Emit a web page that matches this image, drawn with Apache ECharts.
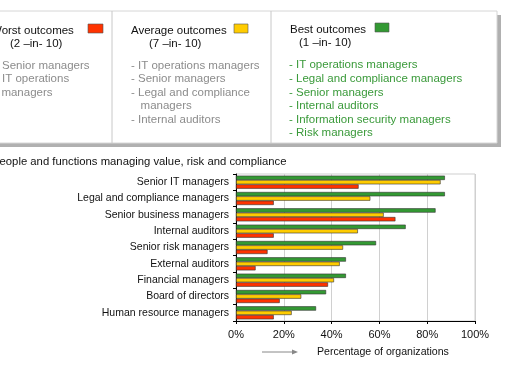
<!DOCTYPE html>
<html>
<head>
<meta charset="utf-8">
<script src="https://cdn.jsdelivr.net/npm/echarts@6/dist/echarts.min.js"></script>
<style>
  html, body { margin: 0; padding: 0; background: #fff; }
  #chart { width: 506px; height: 370px; }
</style>
</head>
<body>
<div id="chart"></div>
<script>
// 分类和数据
const categories = ['Senior IT managers', 'Legal and compliance managers', 'Senior business managers',
  'Internal auditors', 'Senior risk managers', 'External auditors', 'Financial managers',
  'Board of directors', 'Human resource managers']
const best = [87.4, 87.4, 83.5, 71, 58.6, 46, 46, 37.7, 33.5]
const average = [85.6, 56.2, 61.8, 51, 44.8, 43.4, 41, 27.3, 23.3]
const worst = [51.3, 15.8, 66.7, 15.8, 13.2, 8.2, 38.5, 18.3, 15.8]
const xTicks = [0, 20, 40, 60, 80, 100]

// 上方说明框里的文字
const worstList = ['- Senior managers', '- IT operations', '  managers']
const averageList = ['- IT operations managers', '- Senior managers', '- Legal and compliance', '   managers', '- Internal auditors']
const bestList = ['- IT operations managers', '- Legal and compliance managers', '- Senior managers',
  '- Internal auditors', '- Information security managers', '- Risk managers']

const GREEN = '#339933'
const YELLOW = '#ffcc00'
const RED = '#ff3300'
const FONT = '"Liberation Sans", Arial, sans-serif'

function txt (text, x, y, color, size) {
  return {
    type: 'text',
    style: { text: text, x: x, y: y, fill: color, fontSize: size || 11.5, fontFamily: FONT, verticalAlign: 'middle' }
  }
}

function column (list, x, y0, color) {
  return list.map((t, i) => txt(t, x, y0 + i * 13.6, color))
}

let graphic = [
  // 阴影
  { type: 'rect', shape: { x: -6, y: 15, width: 507, height: 132 }, style: { fill: '#b0b0b0' } },
  { type: 'rect', shape: { x: -10, y: 11, width: 507, height: 132 }, style: { fill: '#fff', stroke: '#d6d6d6', lineWidth: 1 } },
  { type: 'line', shape: { x1: 112, y1: 11, x2: 112, y2: 143 }, style: { stroke: '#c8c8c8', lineWidth: 1 } },
  { type: 'line', shape: { x1: 271, y1: 11, x2: 271, y2: 143 }, style: { stroke: '#c8c8c8', lineWidth: 1 } },

  txt('Worst outcomes', -9, 31, '#111'),
  { type: 'rect', shape: { x: 88, y: 24, width: 15, height: 9 }, style: { fill: RED, stroke: '#555', lineWidth: 0.6 } },
  txt('(2 –in- 10)', 10, 44, '#111'),

  txt('Average outcomes', 131, 31, '#111'),
  { type: 'rect', shape: { x: 234, y: 24, width: 14, height: 9 }, style: { fill: YELLOW, stroke: '#555', lineWidth: 0.6 } },
  txt('(7 –in- 10)', 149, 44, '#111'),

  txt('Best outcomes', 290, 30, '#111'),
  { type: 'rect', shape: { x: 375, y: 23, width: 14, height: 9 }, style: { fill: GREEN, stroke: '#555', lineWidth: 0.6 } },
  txt('(1 –in- 10)', 299, 43, '#111'),

  // 图表标题
  txt('People and functions managing value, risk and compliance', -8, 162, '#111', 11.3),
  // 箭头
  { type: 'line', shape: { x1: 262, y1: 352, x2: 294, y2: 352 }, style: { stroke: '#888', lineWidth: 1 } },
  { type: 'polygon', shape: { points: [[298, 352], [292, 349.5], [292, 354.5]] }, style: { fill: '#888' } },
  txt('Percentage of organizations', 317, 352, '#111', 10.6)
]
graphic = graphic.concat(column(worstList, -5, 65.5, '#8c8c8c'))
graphic = graphic.concat(column(averageList, 131, 65.5, '#8c8c8c'))
graphic = graphic.concat(column(bestList, 289, 65.3, '#3a9a3a'))

function barSeries (name, data, color) {
  return {
    name: name,
    type: 'bar',
    data: data,
    barGap: '0%',
    barCategoryGap: '20%',
    itemStyle: { color: color, borderColor: '#333', borderWidth: 0.6 },
    silent: true
  }
}

const chart = echarts.init(document.getElementById('chart'))
chart.setOption({
  animation: false,
  textStyle: { fontFamily: FONT },
  grid: { left: 236, right: 31, top: 174, bottom: 49, show: true, borderColor: '#cfcfcf', borderWidth: 1 },
  xAxis: {
    type: 'value',
    min: xTicks[0],
    max: xTicks[xTicks.length - 1],
    interval: 20,
    axisLine: { show: true, lineStyle: { color: '#000' } },
    axisTick: { show: true, length: 3, lineStyle: { color: '#000' } },
    axisLabel: { formatter: '{value}%', color: '#111', fontSize: 11, margin: 8 },
    splitLine: { show: true, lineStyle: { color: '#d0d0d0' } }
  },
  yAxis: {
    type: 'category',
    data: categories,
    inverse: true,
    axisLine: { show: true, lineStyle: { color: '#000' } },
    axisTick: { show: true, length: 3, lineStyle: { color: '#000' } },
    axisLabel: { color: '#111', fontSize: 10.5, margin: 7 },
    splitLine: { show: false }
  },
  series: [
    barSeries('Best outcomes', best, GREEN),
    barSeries('Average outcomes', average, YELLOW),
    barSeries('Worst outcomes', worst, RED)
  ],
  graphic: graphic
})
</script>
</body>
</html>
